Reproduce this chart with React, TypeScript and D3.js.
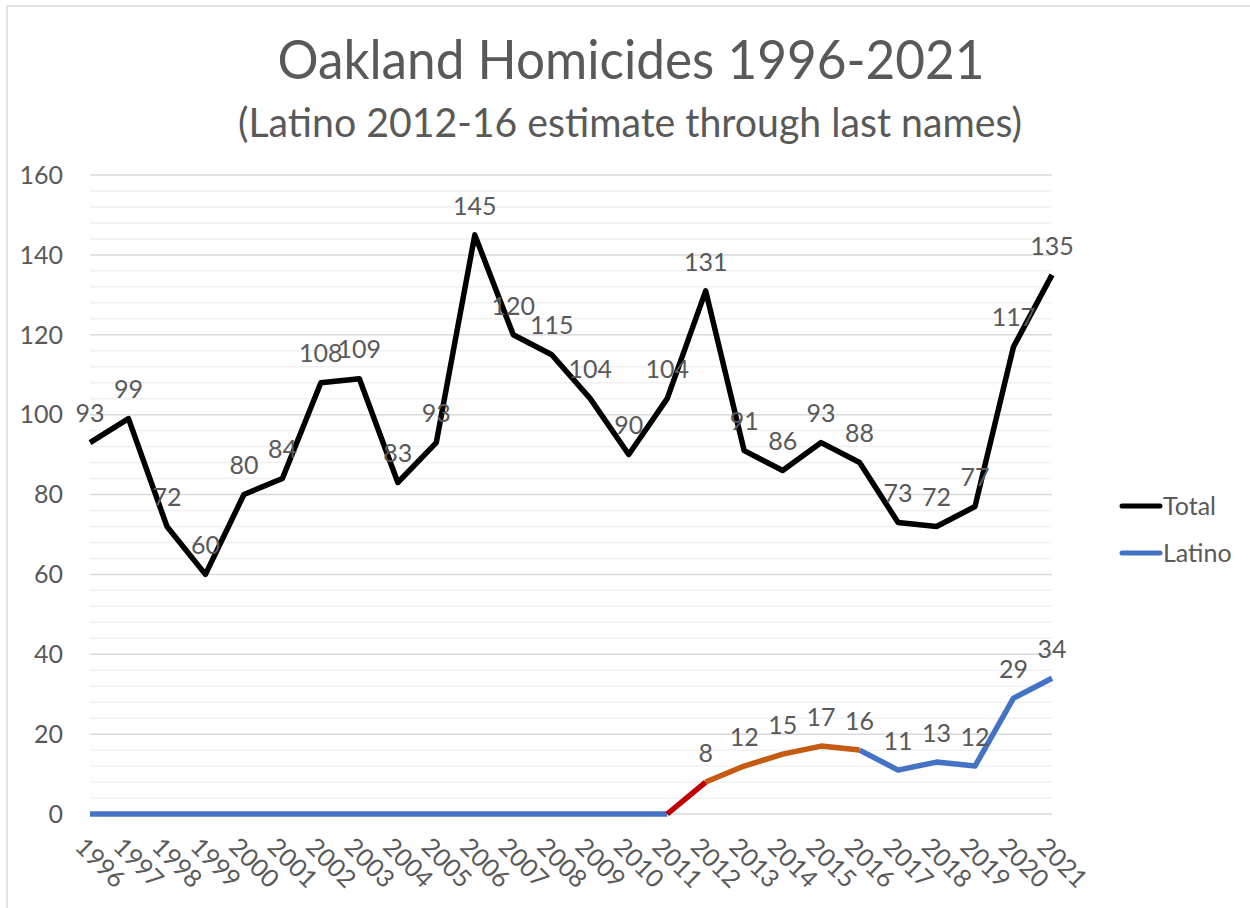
import React from "react";
import * as d3 from "d3";

const years = [1996,1997,1998,1999,2000,2001,2002,2003,2004,2005,2006,2007,2008,2009,2010,2011,2012,2013,2014,2015,2016,2017,2018,2019,2020,2021];
const total = [93,99,72,60,80,84,108,109,83,93,145,120,115,104,90,104,131,91,86,93,88,73,72,77,117,135];
const latino = [0,0,0,0,0,0,0,0,0,0,0,0,0,0,0,0,8,12,15,17,16,11,13,12,29,34];
const latinoLabelYears = [2012,2013,2014,2015,2016,2017,2018,2019,2020,2021];
const yTicks = [0,20,40,60,80,100,120,140,160];
const seriesNames = ["Total","Latino"];

const W = 1250, H = 908;
const FONT = "Lato, 'Noto Sans', sans-serif";
const TXT = "#595959";

export default function App() {
  const x = d3.scaleLinear().domain([1996, 2021]).range([90, 1052]);
  const y = d3.scaleLinear().domain([0, 160]).range([814, 175]);
  const minor = d3.range(0, 161, 4).filter(v => v % 20 !== 0);
  const line = d3.line<[number, number]>().x(d => x(d[0])).y(d => y(d[1]));
  const tot: [number, number][] = years.map((yr, i) => [yr, total[i]]);
  const lat: [number, number][] = years.map((yr, i) => [yr, latino[i]]);
  const seg = (a: number, b: number) => lat.filter(d => d[0] >= a && d[0] <= b);
  return (
    <svg width={W} height={H} style={{ position: "absolute", left: 0, top: 0, background: "#fff" }} fontFamily={FONT}>
      <rect x={0} y={0} width={W} height={H} fill="#fff" />
      <line x1={7} y1={6} x2={W} y2={6} stroke="#d9d9d9" strokeWidth={1.5} />
      <line x1={7} y1={6} x2={7} y2={H} stroke="#d9d9d9" strokeWidth={1.5} />
      <text x={631} y={79} textAnchor="middle" fontSize={54} fontWeight={400} fill={TXT} textLength={707} lengthAdjust="spacingAndGlyphs">Oakland Homicides 1996-2021</text>
      <text x={630} y={137} textAnchor="middle" fontSize={40} fontWeight={400} fill={TXT} textLength={784} lengthAdjust="spacingAndGlyphs">(Latino 2012-16 estimate through last names)</text>
      {minor.map(v => (
        <line key={"m" + v} x1={90} x2={1052} y1={y(v)} y2={y(v)} stroke="#f0f0f0" strokeWidth={1.5} />
      ))}
      {yTicks.map(v => (
        <g key={"t" + v}>
          <line x1={90} x2={1052} y1={y(v)} y2={y(v)} stroke="#d9d9d9" strokeWidth={1.5} />
          <text x={63} y={y(v)} dy="0.35em" textAnchor="end" fontSize={25} fill={TXT}>{v}</text>
        </g>
      ))}
      {years.map(yr => (
        <text key={"x" + yr} x={0} y={0} transform={`translate(${x(yr) - 4},${836}) rotate(45)`} fontSize={25} fill={TXT} dy="0.7em">{yr}</text>
      ))}
      <path d={line(tot) || ""} fill="none" stroke="#000" strokeWidth={5.5} strokeLinejoin="round" />
      <path d={line(seg(1996, 2011)) || ""} fill="none" stroke="#4472c4" strokeWidth={5.5} strokeLinejoin="round" />
      <path d={line(seg(2016, 2021)) || ""} fill="none" stroke="#4472c4" strokeWidth={5.5} strokeLinejoin="round" />
      <path d={line(seg(2011, 2012)) || ""} fill="none" stroke="#c00000" strokeWidth={5.5} strokeLinejoin="round" />
      <path d={line(seg(2012, 2016)) || ""} fill="none" stroke="#c55a11" strokeWidth={5.5} strokeLinejoin="round" />
      {tot.map(d => (
        <text key={"lt" + d[0]} x={x(d[0])} y={y(d[1]) - 29} dy="0.35em" textAnchor="middle" fontSize={25} fill={TXT}>{d[1]}</text>
      ))}
      {lat.filter(d => latinoLabelYears.includes(d[0])).map(d => (
        <text key={"ll" + d[0]} x={x(d[0])} y={y(d[1]) - 29} dy="0.35em" textAnchor="middle" fontSize={25} fill={TXT}>{d[1]}</text>
      ))}
      {seriesNames.map((n, i) => (
        <g key={n} transform={`translate(0,${506 + i * 47})`}>
          <line x1={1122} x2={1160} y1={0} y2={0} stroke={i === 0 ? "#000" : "#4472c4"} strokeWidth={5} strokeLinecap="round" />
          <text x={1163} y={0} dy="0.35em" fontSize={25} fill={TXT}>{n}</text>
        </g>
      ))}
    </svg>
  );
}
